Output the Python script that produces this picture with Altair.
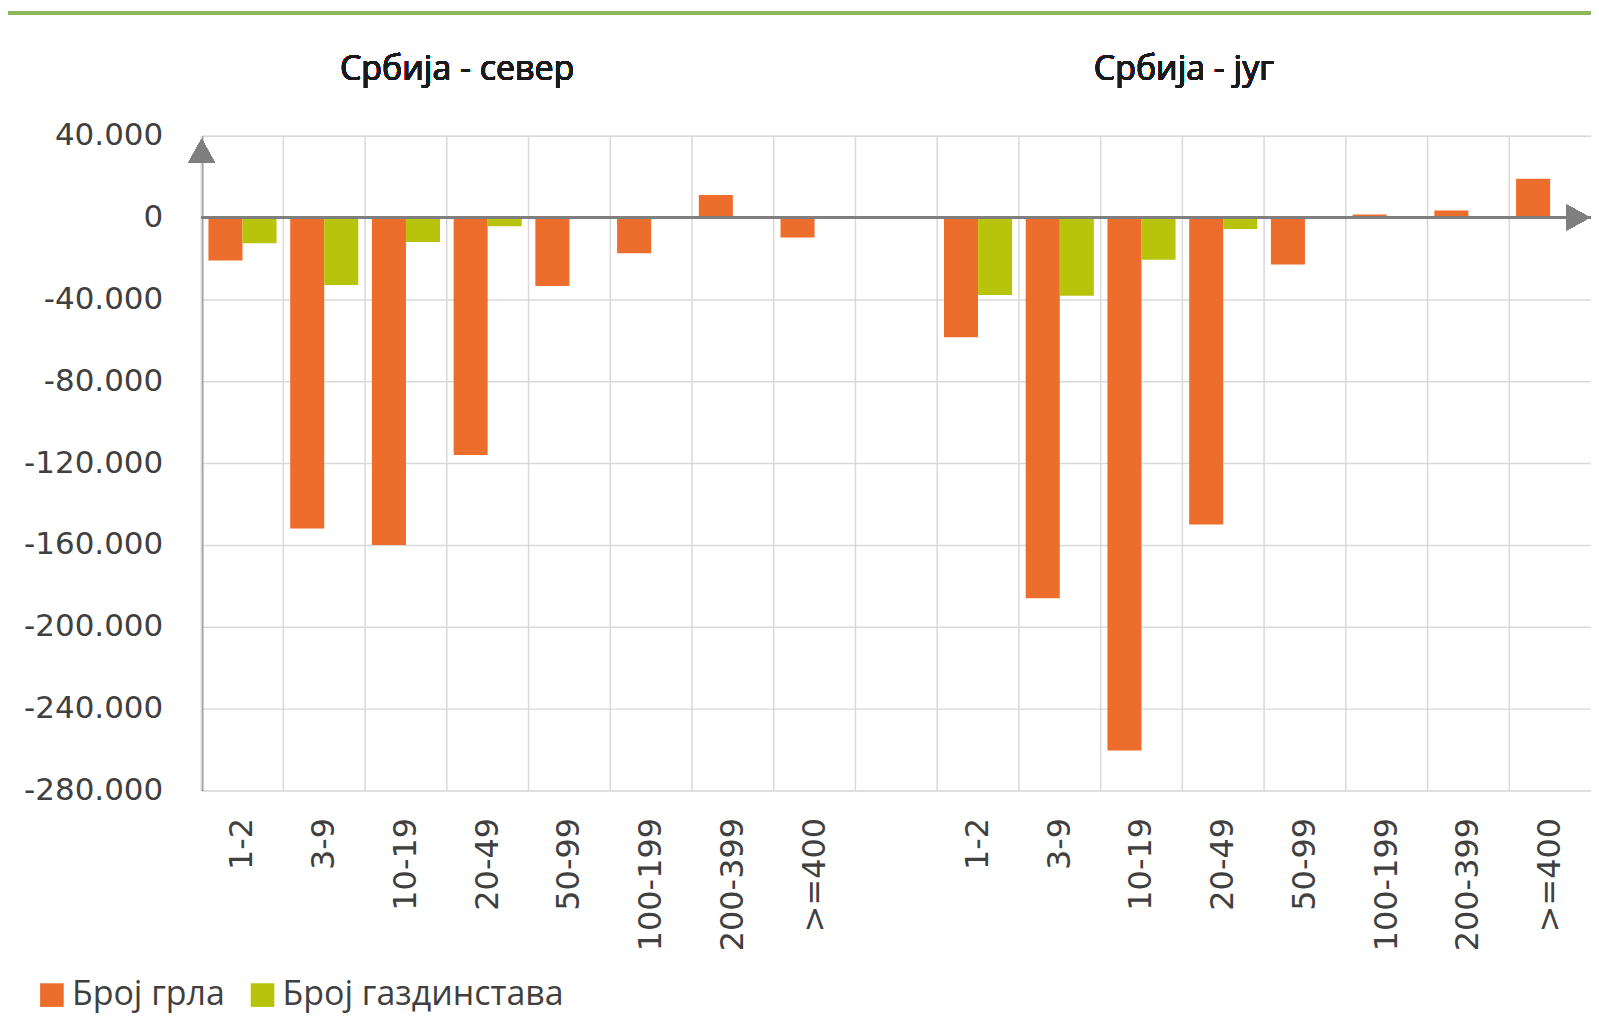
import altair as alt
import pandas as pd

# ---- data ----
classes = ["1-2", "3-9", "10-19", "20-49", "50-99", "100-199", "200-399", ">=400"]
series = ["Број грла", "Број газдинстава"]
colors = ["#EC6D2C", "#B8C40B"]
titles = ["Србија - север", "Србија - југ"]

north_grla = [-21000, -152000, -160000, -116000, -33500, -17500, 11000, -9700]
north_gazd = [-12500, -33000, -12000, -4300, 0, 0, 0, 0]
south_grla = [-58500, -186000, -260500, -150000, -23000, 1500, 3500, 19000]
south_gazd = [-37800, -38200, -20600, -5600, 0, 0, 0, 0]

y_ticks = [40000, 0, -40000, -80000, -120000, -160000, -200000, -240000, -280000]

keys_n = ["N|" + c for c in classes]
keys_s = ["S|" + c for c in classes]
domain = keys_n + ["gap"] + keys_s

rows = []
for keys, gr, gz in [(keys_n, north_grla, north_gazd), (keys_s, south_grla, south_gazd)]:
    for k, a, b in zip(keys, gr, gz):
        rows.append({"key": k, "series": series[0], "value": a})
        rows.append({"key": k, "series": series[1], "value": b})
df = pd.DataFrame(rows)
grid_df = pd.DataFrame({"key": domain})

# ---- layout ----
W, H = 1392, 656
AXIS_GRAY = "#7f7f7f"
GRID = "#d9d9d9"
TXT = "#404040"

xscale = alt.Scale(domain=domain, paddingInner=0, paddingOuter=0)
yscale = alt.Scale(domain=[-280000, 40000], nice=False, zero=False)

xaxis = alt.Axis(
    title=None, labelAngle=-90, domain=False, ticks=False, grid=False,
    labelExpr="datum.value == 'gap' ? '' : split(datum.value, '|')[1]",
    labelFont="DejaVu Sans", labelFontSize=32, labelColor=TXT, labelPadding=27,
)
yaxis = alt.Axis(
    title=None, values=y_ticks, ticks=False,
    labelExpr="(datum.value < 0 ? '-' : '') + replace(format(abs(datum.value), ','), ',', '.')",
    labelFont="DejaVu Sans", labelFontSize=31, labelColor=TXT, labelPadding=39,
    domain=True, domainColor=AXIS_GRAY, domainWidth=2.5,
    grid=True, gridColor=GRID, gridWidth=1.5,
)

vgrid = alt.Chart(grid_df).mark_rule(color=GRID, strokeWidth=1.5).encode(
    x=alt.X("key:N", scale=xscale, sort=domain, axis=xaxis, bandPosition=0),
)

bars = alt.Chart(df).mark_bar().encode(
    x=alt.X("key:N", scale=xscale, sort=domain, axis=xaxis),
    xOffset=alt.XOffset("series:N", scale=alt.Scale(domain=series, paddingInner=0, paddingOuter=0.2)),
    y=alt.Y("value:Q", scale=yscale, axis=yaxis),
    color=alt.Color(
        "series:N",
        scale=alt.Scale(domain=series, range=colors),
        legend=alt.Legend(
            title=None, orient="none", legendX=-167, legendY=844, direction="horizontal",
            symbolType="square", symbolSize=560, symbolStrokeWidth=0,
            labelFont="Open Sans", labelFontSize=34, labelColor=TXT, labelOffset=3,
            labelLimit=600, columnPadding=20, padding=0,
        ),
    ),
)

zero_line = alt.Chart(df).mark_rule(color=AXIS_GRAY, strokeWidth=2.5).encode(
    y=alt.datum(0, type="quantitative"),
)

arrow_up = alt.Chart(df).mark_point(
    shape="M-1,0.9L0,-0.9L1,0.9Z", filled=True, color=AXIS_GRAY, opacity=1, size=680
).encode(x=alt.value(0), y=alt.value(15))

arrow_right = alt.Chart(df).mark_point(
    shape="M-0.9,-1L0.9,0L-0.9,1Z", filled=True, color=AXIS_GRAY, opacity=1, size=680
).encode(x=alt.value(W - 13), y=alt.datum(0, type="quantitative"))

title_n = alt.Chart(df).mark_text(
    text=titles[0], font="Open Sans", fontSize=34, color="#1a1a1a", align="center", baseline="middle"
).encode(x=alt.value(256), y=alt.value(-66))
title_s = alt.Chart(df).mark_text(
    text=titles[1], font="Open Sans", fontSize=34, color="#1a1a1a", align="center", baseline="middle"
).encode(x=alt.value(984), y=alt.value(-66))

top_line = alt.Chart(df).mark_rule(color="#8DB85E", strokeWidth=2.5).encode(
    x=alt.value(-194), x2=alt.value(W + 2), y=alt.value(-123)
)

chart = alt.layer(
    vgrid, bars, zero_line, arrow_up, arrow_right, title_n, title_s, top_line
).properties(
    width=W, height=H,
    padding={"left": 194, "top": 127, "right": 0, "bottom": 224},
    autosize=alt.AutoSizeParams(type="none"),
).configure_view(stroke=GRID, strokeWidth=1.5).configure(background="white")

chart.save("out.html", embed_options={"renderer": "svg", "actions": False})
